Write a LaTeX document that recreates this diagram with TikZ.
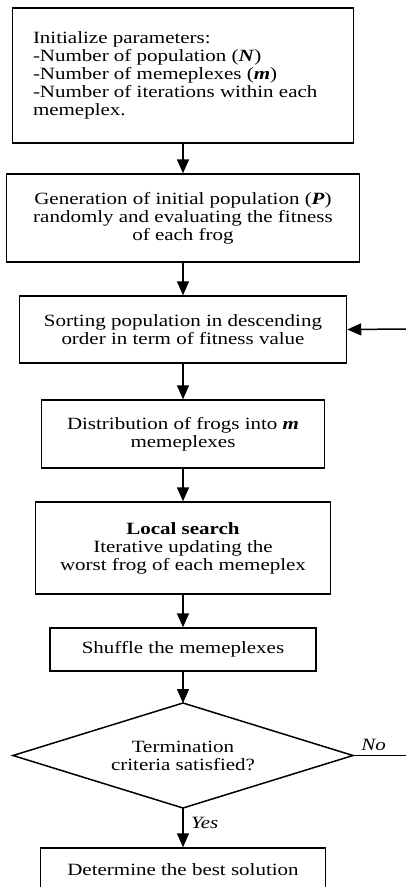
\documentclass[tikz,border=0pt]{standalone}
\usepackage{fontspec}
\setmainfont{Liberation Serif}[FakeStretch=1.22]
\usetikzlibrary{arrows.meta}
\begin{document}
\begin{tikzpicture}[x=1pt,y=-1pt,
  every node/.style={font=\fontsize{17.2pt}{18pt}\selectfont},
  box/.style={draw, line width=1.5pt, inner sep=0pt, align=center},
  flow/.style={line width=1.5pt, -{Triangle[length=14pt,width=12pt]}},
  lbl/.style={font=\fontsize{17.2pt}{18pt}\selectfont\itshape}]
\useasboundingbox (0,0) rectangle (406,887);
\clip (0,0) rectangle (406,887);
\node[box, minimum width=341pt, minimum height=135pt] (init) at (183,75.5)
  {\begin{minipage}{300pt}\raggedright
   Initialize parameters:\\
   -Number of population (\textbf{\textit{N}})\\
   -Number of memeplexes (\textbf{\textit{m}})\\
   -Number of iterations within each\\
   memeplex.\end{minipage}};
\node[box, minimum width=353pt, minimum height=88pt] (gen) at (183,218)
  {Generation of initial population (\textbf{\textit{P}})\\randomly and evaluating the fitness\\of each frog};
\node[box, minimum width=327pt, minimum height=67pt] (sort) at (183,329.5)
  {Sorting population in descending\\order in term of fitness value};
\node[box, minimum width=283pt, minimum height=68pt] (dist) at (183,434)
  {Distribution of frogs into \textbf{\textit{m}}\\memeplexes};
\node[box, minimum width=295pt, minimum height=92pt] (local) at (183,548)
  {\textbf{Local search}\\Iterative updating the\\worst frog of each memeplex};
\node[box, minimum width=266pt, minimum height=43pt] (shuf) at (183,649.5)
  {Shuffle the memeplexes};
% decision diamond
\coordinate (dtop) at (183,703);
\coordinate (dbot) at (183,808);
\coordinate (dleft) at (13,755.5);
\coordinate (dright) at (353,755.5);
\draw[line width=1.5pt, line join=miter] (dtop) -- (dright) -- (dbot) -- (dleft) -- cycle;
\node[align=center] (dec) at (183,755.5) {Termination\\criteria satisfied?};
\node[box, minimum width=285pt, minimum height=44pt] (best) at (183,870)
  {Determine the best solution};
\coordinate (noend) at (406,755.5);
\coordinate (back) at (406,329);
\draw[flow] (init) -- (gen);
\draw[flow] (gen) -- (sort);
\draw[flow] (sort) -- (dist);
\draw[flow] (dist) -- (local);
\draw[flow] (local) -- (shuf);
\draw[flow] (shuf) -- (dtop);
\draw[flow] (dbot) -- node[lbl, right, xshift=4pt, yshift=5pt] {Yes} (best);
\draw[line width=1.5pt] (dright) -- node[lbl, above, xshift=-6pt, yshift=1pt] {No} (noend);
\draw[flow] (back) -- (sort.east);
\end{tikzpicture}
\end{document}
